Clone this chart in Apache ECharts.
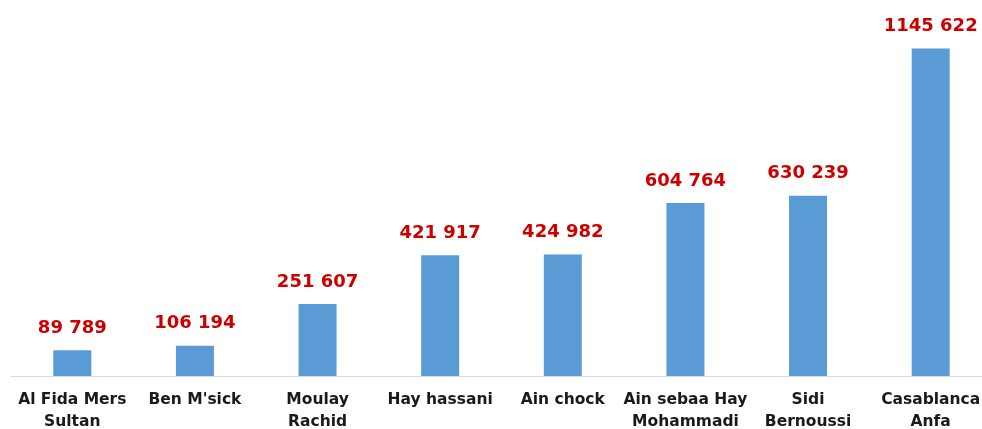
<!DOCTYPE html>
<html>
<head>
<meta charset="utf-8">
<script src="https://cdn.jsdelivr.net/npm/echarts@6/dist/echarts.min.js"></script>
<style>
  html, body { margin: 0; padding: 0; background: #fff; }
  #main { width: 982px; height: 429px; }
</style>
</head>
<body>
<div id="main"></div>
<script>
var districts = [
  'Al Fida Mers\nSultan',
  "Ben M'sick",
  'Moulay\nRachid',
  'Hay hassani',
  'Ain chock',
  'Ain sebaa Hay\nMohammadi',
  'Sidi\nBernoussi',
  'Casablanca\nAnfa'
]
var population = [89789, 106194, 251607, 421917, 424982, 604764, 630239, 1145622]

// 1145622 -> "1145 622", 89789 -> "89 789"
function fmt(v) {
  var s = String(v)
  return s.slice(0, s.length - 3) + ' ' + s.slice(-3)
}

var myChart = echarts.init(document.getElementById('main'))

var option = {
  animation: false,
  grid: {
    left: 11, right: -10, top: 10, bottom: 53,
    containLabel: false,
    outerBoundsMode: 'none'
  },
  xAxis: {
    type: 'category',
    data: districts,
    axisLine: { lineStyle: { color: '#d9d9d9', width: 1 } },
    axisTick: { show: false },
    axisLabel: {
      interval: 0,
      margin: 13,
      color: '#1a1a1a',
      fontFamily: 'DejaVu Sans',
      fontWeight: 'bold',
      fontSize: 15.5,
      lineHeight: 22
    }
  },
  yAxis: {
    type: 'value',
    min: 0,
    max: 1280000,
    show: false,
    splitLine: { show: false }
  },
  series: [
    {
      type: 'bar',
      data: population,
      barWidth: 38,
      itemStyle: { color: '#5b9bd5' },
      label: {
        show: true,
        position: 'top',
        distance: 13,
        color: '#cc0000',
        fontFamily: 'DejaVu Sans',
        fontWeight: 'bold',
        fontSize: 18,
        formatter: function (p) { return fmt(p.value) }
      }
    }
  ]
}
myChart.setOption(option)
</script>
</body>
</html>
